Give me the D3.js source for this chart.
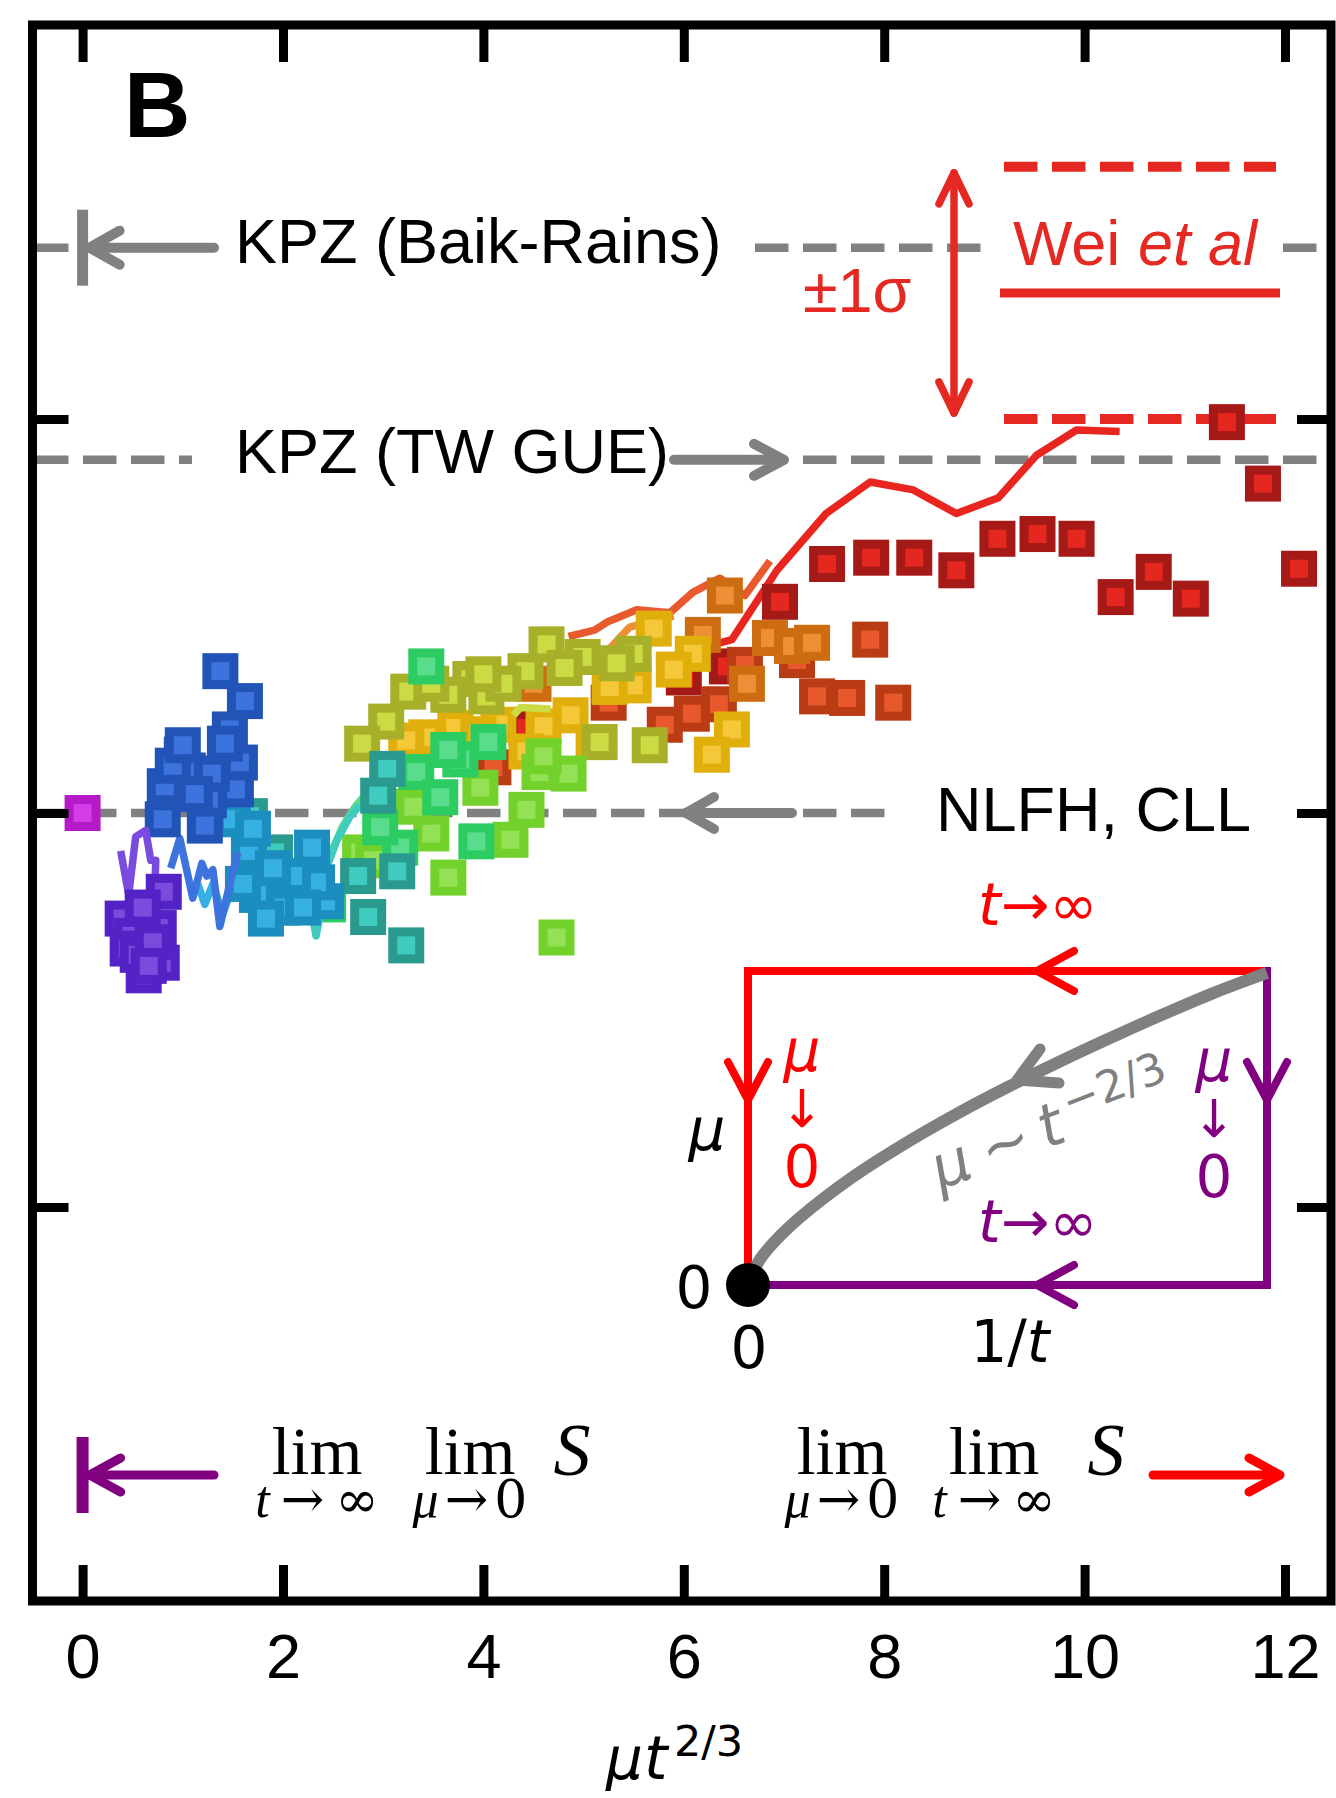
<!DOCTYPE html>
<html><head><meta charset="utf-8">
<script src="https://cdn.jsdelivr.net/npm/d3@7"></script>
<style>body{margin:0;background:#fff}</style>
</head><body>
<svg id="c" width="1336" height="1798" xmlns="http://www.w3.org/2000/svg"></svg>
<script>
// ---------------- DATA ----------------
const X_TICKS = [0, 2, 4, 6, 8, 10, 12];
const X_TICK_LABELS = ["0", "2", "4", "6", "8", "10", "12"];
const Y_TICKS = [-0.25, 0, 0.25];
const KPZ_BAIK_RAINS = 0.3587;
const KPZ_TW_GUE = 0.2241;
const NLFH_CLL = 0;
const WEI_MEAN = 0.33, WEI_SIGMA = 0.08;

const magentaPts = [[0, 0]];
const purplePts = [[0.81,-0.050],[0.76,-0.073],[0.79,-0.095],[0.61,-0.103],[0.40,-0.067],[0.49,-0.078],[0.45,-0.086],[0.60,-0.060],[0.55,-0.090],[0.70,-0.082],[0.66,-0.097]];
const purpleLine = [[0.38,-0.024],[0.46,-0.052],[0.53,-0.015],[0.63,-0.011],[0.68,-0.030],[0.73,-0.030],[0.72,-0.050]];
const bluePts = [[1.375,0.090],[1.62,0.071],[1.47,0.053],[1.57,0.032],[1.53,0.015],[1.26,0.008],[1.22,-0.008],[0.80,-0.004],[0.99,0.037],[1.05,0.027],[0.82,0.017],[1.29,0.025],[1.42,0.044],[0.90,0.030],[1.12,0.012],[1.00,0.043]];
const blueLine = [[0.88,-0.035],[0.97,-0.016],[1.10,-0.054],[1.19,-0.032],[1.24,-0.040],[1.30,-0.036],[1.37,-0.072],[1.45,-0.050],[1.55,-0.025]];
const lightBluePts = [[1.66,-0.024],[2.29,-0.022],[2.43,-0.056],[1.99,-0.060],[1.74,-0.052],[1.83,-0.067],[1.50,-0.004],[2.34,-0.044],[2.10,-0.040],[1.60,-0.045],[1.90,-0.035],[2.20,-0.060],[1.70,-0.010]];
const lightBlueLine = [[1.15,-0.045],[1.22,-0.058],[1.30,-0.045],[1.40,-0.064],[1.48,-0.050],[1.56,-0.030]];
const tealPts = [[3.04,0.028],[2.95,0.011],[2.75,-0.040],[3.14,-0.037],[2.85,-0.066],[3.23,-0.084],[1.67,-0.002],[1.92,-0.025]];
const tealLine = [[2.15,-0.055],[2.25,-0.050],[2.33,-0.078],[2.40,-0.055],[2.44,-0.034],[2.54,-0.017],[2.67,-0.002],[2.77,0.005]];
const greenPts = [[3.43,0.093],[4.05,0.045],[3.77,0.034],[3.33,0.026],[3.57,0.010],[3.93,-0.018],[3.17,-0.022],[2.97,-0.009],[3.65,0.040],[2.45,-0.058]];
const greenLine = [[2.48,-0.025],[2.60,-0.008],[2.72,0.004],[2.80,0.010]];
const lightGreenPts = [[4.56,0.026],[4.43,0.002],[4.27,-0.017],[3.48,-0.013],[3.65,-0.041],[3.97,0.016],[4.73,-0.079],[3.30,0.004],[2.77,-0.025],[4.85,0.025],[4.60,0.036],[2.90,-0.030]];
const olivePts = [[3.03,0.058],[2.79,0.044],[3.25,0.077],[3.87,0.085],[4.03,0.074],[3.65,0.075],[4.42,0.090],[4.63,0.107],[4.99,0.099],[5.50,0.101],[5.33,0.095],[4.81,0.092],[5.16,0.045],[5.66,0.043],[3.48,0.082],[4.20,0.082],[4.00,0.088]];
const oliveLine = [[4.30,0.062],[4.37,0.067],[4.67,0.066]];
const yellowPts = [[5.70,0.117],[6.09,0.101],[5.90,0.091],[6.48,0.053],[6.28,0.037],[4.87,0.062],[4.60,0.055],[4.43,0.039],[5.50,0.081],[5.26,0.080],[3.43,0.048],[3.72,0.054],[3.23,0.046],[5.10,0.045],[4.15,0.056],[3.95,0.050]];
const orangePts = [[6.41,0.138],[6.19,0.113],[6.86,0.111],[7.08,0.106],[7.28,0.108],[6.63,0.082],[4.50,0.082]];
const orangeLine = [[5.05,0.095],[5.27,0.105],[5.46,0.118],[5.63,0.121],[5.90,0.125]];
const redOrangePts = [[7.86,0.110],[7.33,0.074],[7.63,0.073],[8.09,0.070],[7.13,0.097],[6.35,0.069],[6.08,0.063],[5.81,0.056],[5.25,0.070],[6.61,0.094],[4.10,0.029]];
const redOrangeLine = [[4.85,0.112],[5.11,0.116],[5.23,0.121],[5.53,0.129],[5.86,0.127],[6.09,0.140],[6.36,0.149],[6.61,0.138],[6.86,0.160]];
const darkRedPts = [[6.96,0.134],[7.43,0.158],[7.87,0.162],[8.30,0.162],[8.72,0.154],[9.13,0.174],[9.53,0.177],[9.92,0.174],[10.31,0.137],[10.69,0.153],[11.06,0.136],[11.42,0.248],[11.78,0.209],[12.14,0.155],[6.43,0.093],[6.00,0.086],[4.43,0.054]];
const redLine = [[6.10,0.106],[6.36,0.108],[6.48,0.110],[6.93,0.154],[7.42,0.190],[7.86,0.210],[8.29,0.205],[8.72,0.190],[9.14,0.200],[9.52,0.227],[9.92,0.243],[10.35,0.242]];

// schematic inset curve  mu ~ t^(-2/3)  (x = 1/t, y = mu)
const insetCurve = [[0,0],[0.02,0.074],[0.05,0.136],[0.1,0.215],[0.2,0.342],[0.3,0.448],[0.4,0.543],[0.5,0.630],[0.6,0.711],[0.7,0.788],[0.8,0.862],[0.9,0.932],[1,0.994]];

const SERIES = [
  {pts: darkRedPts,   lines: [redLine],       stroke: "#a51916", fill: "#e42820", lineColor: ["#e8261f"]},
  {pts: redOrangePts, lines: [redOrangeLine], stroke: "#b93c14", fill: "#e7592c", lineColor: ["#e85a2e"]},
  {pts: orangePts,    lines: [orangeLine],    stroke: "#cd6c10", fill: "#ec8f36", lineColor: ["#ed9035"]},
  {pts: yellowPts,    lines: [],              stroke: "#e1af0b", fill: "#f4c838", lineColor: []},
  {pts: olivePts,     lines: [oliveLine],     stroke: "#a7b028", fill: "#cbdb44", lineColor: ["#cbdb44"]},
  {pts: lightGreenPts,lines: [],              stroke: "#72d12b", fill: "#94e155", lineColor: []},
  {pts: greenPts,     lines: [greenLine],     stroke: "#2ccc63", fill: "#59dd8c", lineColor: ["#59dd8c"]},
  {pts: tealPts,      lines: [tealLine],      stroke: "#2a9a8f", fill: "#40cbbf", lineColor: ["#40cbbf"]},
  {pts: lightBluePts, lines: [lightBlueLine], stroke: "#1b8ebf", fill: "#36b0e3", lineColor: ["#36b0e3"]},
  {pts: bluePts,      lines: [blueLine],      stroke: "#2254b8", fill: "#3d73dd", lineColor: ["#3d73dd"]},
  {pts: purplePts,    lines: [purpleLine],    stroke: "#5323c5", fill: "#7a4cdd", lineColor: ["#7a4cdd"]},
  {pts: magentaPts,   lines: [],              stroke: "#b41ac8", fill: "#d43ce8", lineColor: []}
];

// ---------------- DRAW ----------------
const svg = d3.select("#c");
const x = d3.scaleLinear().domain([0, 12]).range([82.6, 1285]);
const y = d3.scaleLinear().domain([-0.5, 0.5]).range([1601, 25]);
const GRAY = "#808080", WEI_RED = "#e62822", RED = "#ff0000", PURPLE = "#800080";
const DASH = "33.5 14.5", X0 = 35;
const SANS = "'Liberation Sans', Arial, sans-serif";
const DJV = "'DejaVu Sans', sans-serif";
const SERIF = "'Liberation Serif', 'Times New Roman', serif";

function hLine(g, yy, x1, x2, color, w, dashed) {
  const l = g.append("line").attr("x1", x1).attr("x2", x2).attr("y1", yy).attr("y2", yy)
    .attr("stroke", color).attr("stroke-width", w);
  if (dashed) l.attr("stroke-dasharray", DASH).attr("stroke-dashoffset", x1 - X0);
  return l;
}
function head(g, tx, ty, dx, dy, len, half, color, w) {
  const px = -dy, py = dx;
  const bx = tx - dx * len, by = ty - dy * len;
  g.append("path")
    .attr("d", `M${bx + px * half},${by + py * half} L${tx},${ty} L${bx - px * half},${by - py * half}`)
    .attr("fill", "none").attr("stroke", color).attr("stroke-width", w)
    .attr("stroke-linecap", "round").attr("stroke-linejoin", "round");
}

// reference lines
const ref = svg.append("g");
const yBR = y(KPZ_BAIK_RAINS), yTW = y(KPZ_TW_GUE), yNL = y(NLFH_CLL);
hLine(ref, yBR, 35, 76, GRAY, 8.5, true);
hLine(ref, yBR, 755, 985, GRAY, 8.5, true);
hLine(ref, yBR, 1275, 1331, GRAY, 8.5, true);
ref.append("line").attr("x1", x(0)).attr("x2", x(0)).attr("y1", yBR - 38).attr("y2", yBR + 38)
  .attr("stroke", GRAY).attr("stroke-width", 11);
hLine(ref, yBR, x(0) + 6, 214, GRAY, 10, false).attr("stroke-linecap", "round");
head(ref, x(0) + 7, yBR, -1, 0, 30, 17, GRAY, 10);

hLine(ref, yTW, 35, 192, GRAY, 8.5, true);
hLine(ref, yTW, 800, 1331, GRAY, 8.5, true);
hLine(ref, yTW, 674, 783, GRAY, 10, false).attr("stroke-linecap", "round");
head(ref, 784, yTW, 1, 0, 30, 16, GRAY, 10);

hLine(ref, yNL, 35, 886, GRAY, 8.5, true);
hLine(ref, yNL, 686, 792, GRAY, 10, false).attr("stroke-linecap", "round");
head(ref, 686, yNL, -1, 0, 28, 16, GRAY, 10);

const tx = svg.append("g").attr("font-family", SANS).attr("font-size", 63).attr("fill", "#000");
tx.append("text").attr("x", 235).attr("y", 263).text("KPZ (Baik-Rains)");
tx.append("text").attr("x", 235).attr("y", 473).text("KPZ (TW GUE)");
tx.append("text").attr("x", 936).attr("y", 831).text("NLFH, CLL");

// Wei et al legend
const wei = svg.append("g");
const yUp = y(WEI_MEAN + WEI_SIGMA), yLo = y(WEI_MEAN - WEI_SIGMA), yMid = y(WEI_MEAN);
wei.append("line").attr("x1", 1004).attr("x2", 1276).attr("y1", yUp).attr("y2", yUp)
  .attr("stroke", WEI_RED).attr("stroke-width", 10).attr("stroke-dasharray", DASH);
wei.append("line").attr("x1", 1004).attr("x2", 1276).attr("y1", yLo).attr("y2", yLo)
  .attr("stroke", WEI_RED).attr("stroke-width", 10).attr("stroke-dasharray", DASH);
wei.append("line").attr("x1", 1000).attr("x2", 1280).attr("y1", yMid).attr("y2", yMid)
  .attr("stroke", WEI_RED).attr("stroke-width", 9);
wei.append("line").attr("x1", 954).attr("x2", 954).attr("y1", yUp + 6).attr("y2", yLo - 6)
  .attr("stroke", WEI_RED).attr("stroke-width", 7.5).attr("stroke-linecap", "round");
head(wei, 954, yUp + 6, 0, -1, 31, 15, WEI_RED, 7.5);
head(wei, 954, yLo - 6, 0, 1, 31, 15, WEI_RED, 7.5);
const wt = wei.append("text").attr("x", 1013).attr("y", 265).attr("font-family", SANS)
  .attr("font-size", 63).attr("fill", WEI_RED);
wt.append("tspan").text("Wei ");
wt.append("tspan").attr("font-style", "italic").text("et al");
wei.append("text").attr("x", 803).attr("y", 312).attr("font-family", SANS).attr("font-size", 63)
  .attr("fill", WEI_RED).text("±1σ");

// data series
const lineGen = d3.line().x(d => x(d[0])).y(d => y(d[1]));
const SQ = 27, SW = 9;
const dataG = svg.append("g");
SERIES.forEach(s => {
  s.lines.forEach((ln, i) => {
    dataG.append("path").attr("d", lineGen(ln)).attr("fill", "none")
      .attr("stroke", s.lineColor[i]).attr("stroke-width", 7.5)
      .attr("stroke-linejoin", "round").attr("stroke-linecap", "butt");
  });
  dataG.append("g").selectAll("rect").data(s.pts).join("rect")
    .attr("x", d => x(d[0]) - SQ / 2).attr("y", d => y(d[1]) - SQ / 2)
    .attr("width", SQ).attr("height", SQ)
    .attr("fill", s.fill).attr("stroke", s.stroke).attr("stroke-width", SW);
});

// ---------------- INSET ----------------
const ix = d3.scaleLinear().domain([0, 1]).range([748, 1267]);
const iy = d3.scaleLinear().domain([0, 1]).range([1285, 971]);
const ins = svg.append("g");
ins.append("path").attr("d", `M${ix(0)},${iy(0)} V${iy(1)} H${ix(1)}`).attr("fill", "none")
  .attr("stroke", RED).attr("stroke-width", 8);
ins.append("path").attr("d", `M${ix(1)},${iy(1) - 4} V${iy(0)} H${ix(0)}`).attr("fill", "none")
  .attr("stroke", PURPLE).attr("stroke-width", 8);
head(ins, 1037, iy(1), -1, 0, 37, 20, RED, 8);
head(ins, ix(0), 1100, 0, 1, 38, 20, RED, 8);
head(ins, ix(1), 1100, 0, 1, 38, 20, PURPLE, 8);
head(ins, 1037, iy(0), -1, 0, 37, 20, PURPLE, 8);
ins.append("path").attr("d", d3.line().curve(d3.curveCatmullRom).x(d => ix(d[0])).y(d => iy(d[1]))(insetCurve))
  .attr("fill", "none").attr("stroke", GRAY).attr("stroke-width", 12);
ins.append("path").attr("d", "M1040,1049 L1017,1080 L1059,1083").attr("fill", "none")
  .attr("stroke", GRAY).attr("stroke-width", 11).attr("stroke-linecap", "round").attr("stroke-linejoin", "round");
ins.append("circle").attr("cx", ix(0)).attr("cy", iy(0)).attr("r", 22).attr("fill", "#000");

const il = ins.append("g").attr("font-family", DJV).attr("font-size", 58);
function tArrowInf(g, xx, yy, color) {
  const t = g.append("text").attr("x", xx).attr("y", yy).attr("fill", color);
  t.append("tspan").attr("font-style", "italic").text("t");
  t.append("tspan").text("→∞");
}
tArrowInf(il, 978, 925, RED);
tArrowInf(il, 978, 1242, PURPLE);
function muDown(g, cx, y1, y2, y3, color) {
  const t = g.append("text").attr("text-anchor", "middle").attr("fill", color);
  t.append("tspan").attr("x", cx).attr("y", y1).attr("font-style", "italic").text("μ");
  t.append("tspan").attr("x", cx).attr("y", y2).attr("font-size", 52).text("↓");
  t.append("tspan").attr("x", cx).attr("y", y3).text("0");
}
muDown(il, 802, 1071, 1127, 1187, RED);
muDown(il, 1214, 1081, 1137, 1197, PURPLE);
il.append("text").attr("x", 707).attr("y", 1150).attr("text-anchor", "middle").attr("font-style", "italic").text("μ");
il.append("text").attr("x", 694).attr("y", 1308).attr("text-anchor", "middle").text("0");
il.append("text").attr("x", 749).attr("y", 1368).attr("text-anchor", "middle").text("0");
const ot = il.append("text").attr("x", 1010).attr("y", 1362).attr("text-anchor", "middle");
ot.append("tspan").text("1/");
ot.append("tspan").attr("font-style", "italic").text("t");
const mt = il.append("text").attr("transform", "translate(940,1190) rotate(-21)").attr("fill", GRAY).attr("font-size", 60);
mt.append("tspan").attr("font-style", "italic").text("μ");
mt.append("tspan").attr("dx", 14).text("~");
mt.append("tspan").attr("dx", 12).attr("font-style", "italic").text("t");
mt.append("tspan").attr("font-size", 44).attr("dx", 8).attr("dy", -21).text("−2/3");

// ---------------- BOTTOM LIMIT EXPRESSIONS ----------------
function limExpr(pieces, sx) {
  const t = svg.append("text").attr("font-family", SERIF).attr("fill", "#000").attr("text-anchor", "middle");
  pieces.forEach(p => {
    t.append("tspan").attr("x", p.cx).attr("y", 1474).attr("font-size", 68).text("lim");
    t.append("tspan").attr("x", p.cx + p.ls / 2).attr("y", 1517).attr("font-size", 52).attr("font-style", "italic")
      .attr("letter-spacing", p.ls).text(p.sub[0]);
    t.append("tspan").attr("font-size", 52).attr("font-family", "'DejaVu Serif', serif")
      .attr("letter-spacing", p.ls).text(p.sub[1]);
  });
  t.append("tspan").attr("x", sx).attr("y", 1475).attr("font-size", 74).attr("font-style", "italic").text("S");
}
limExpr([{cx: 317, ls: 11, sub: ["t", "→∞"]}, {cx: 470, ls: 6, sub: ["μ", "→0"]}], 572);
limExpr([{cx: 842, ls: 6, sub: ["μ", "→0"]}, {cx: 994, ls: 11, sub: ["t", "→∞"]}], 1106);

const ba = svg.append("g");
ba.append("line").attr("x1", x(0)).attr("x2", x(0)).attr("y1", 1437).attr("y2", 1513)
  .attr("stroke", PURPLE).attr("stroke-width", 12);
hLine(ba, 1475, x(0) + 6, 214, PURPLE, 9, false).attr("stroke-linecap", "round");
head(ba, x(0) + 7, 1475, -1, 0, 31, 17, PURPLE, 9);
hLine(ba, 1475, 1153, 1278, RED, 9, false).attr("stroke-linecap", "round");
head(ba, 1280, 1475, 1, 0, 31, 17, RED, 9);

// ---------------- FRAME & AXES ----------------
const fr = svg.append("g");
const axB = fr.append("g").attr("transform", "translate(0,1601)")
  .call(d3.axisBottom(x).tickValues(X_TICKS).tickFormat((d, i) => X_TICK_LABELS[i]).tickSizeInner(-36).tickSizeOuter(0));
axB.select(".domain").remove();
axB.selectAll("line").attr("stroke", "#000").attr("stroke-width", 9);
axB.selectAll("text").attr("y", 77).attr("dy", 0).attr("font-family", SANS).attr("font-size", 63).attr("fill", "#000");
const axT = fr.append("g").attr("transform", "translate(0,25)")
  .call(d3.axisTop(x).tickValues(X_TICKS).tickSizeInner(-37).tickSizeOuter(0).tickFormat(""));
axT.select(".domain").remove();
axT.selectAll("line").attr("stroke", "#000").attr("stroke-width", 9);
const axL = fr.append("g").attr("transform", "translate(32.5,0)")
  .call(d3.axisLeft(y).tickValues(Y_TICKS).tickSizeInner(-36).tickSizeOuter(0).tickFormat(""));
axL.select(".domain").remove();
axL.selectAll("line").attr("stroke", "#000").attr("stroke-width", 9);
const axR = fr.append("g").attr("transform", "translate(1331,0)")
  .call(d3.axisRight(y).tickValues(Y_TICKS).tickSizeInner(-34).tickSizeOuter(0).tickFormat(""));
axR.select(".domain").remove();
axR.selectAll("line").attr("stroke", "#000").attr("stroke-width", 9);
fr.append("rect").attr("x", 32.5).attr("y", 25).attr("width", 1331 - 32.5).attr("height", 1601 - 25)
  .attr("fill", "none").attr("stroke", "#000").attr("stroke-width", 9);

// axis label  mu t^{2/3}
const xl = svg.append("text").attr("font-family", DJV).attr("fill", "#000");
xl.append("tspan").attr("x", 606).attr("y", 1779).attr("font-size", 58).attr("font-style", "italic").text("μ");
xl.append("tspan").attr("x", 644).attr("y", 1779).attr("font-size", 60).attr("font-style", "italic").text("t");
xl.append("tspan").attr("x", 674).attr("y", 1756).attr("font-size", 43).text("2/3");

// panel letter
svg.append("text").attr("x", 124).attr("y", 137).attr("font-family", SANS).attr("font-weight", "bold")
  .attr("font-size", 92).attr("fill", "#000").text("B");
</script>
</body></html>
